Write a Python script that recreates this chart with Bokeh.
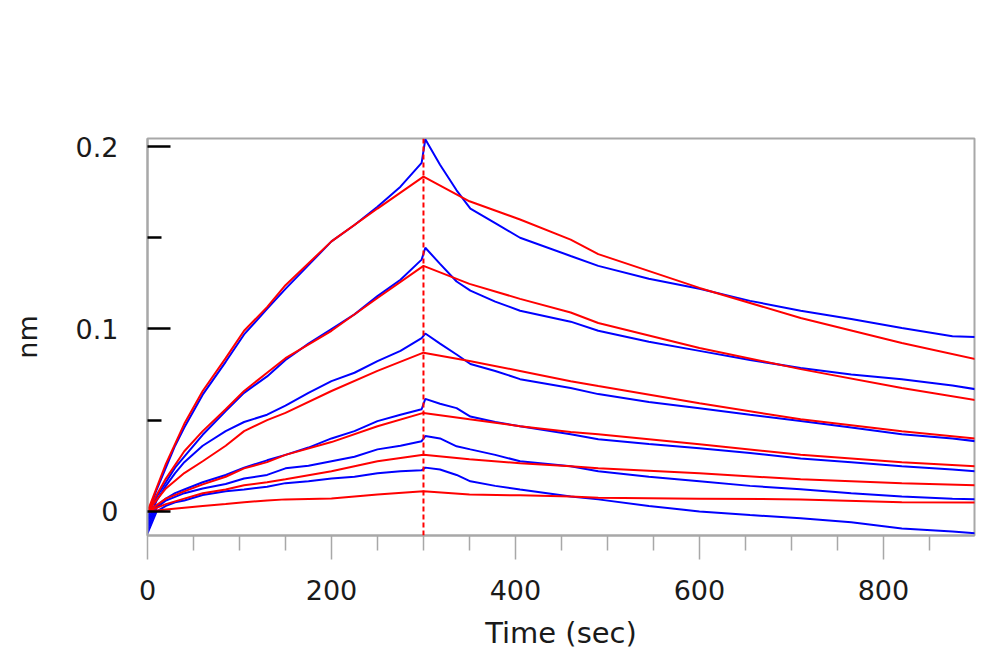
from bokeh.plotting import figure
from bokeh.models import Range1d, FixedTicker, Span, CustomJSTickFormatter
from bokeh.embed import file_html
from bokeh.resources import INLINE

# ---- data ----
t_fit = [0, 20, 40, 60, 85, 105, 130, 150, 200, 250, 300, 350, 405, 460, 490, 600, 710, 820, 900]
fit1 = [0.000, 0.026, 0.048, 0.066, 0.084, 0.099, 0.112, 0.124, 0.148, 0.166, 0.1835, 0.170, 0.160, 0.149, 0.141, 0.1225, 0.106, 0.0923, 0.0835]
fit2 = [0.000, 0.018, 0.033, 0.044, 0.056, 0.066, 0.076, 0.084, 0.099, 0.117, 0.1346, 0.1247, 0.1165, 0.109, 0.1033, 0.0896, 0.078, 0.0676, 0.061]
fit3 = [0.000, 0.0126, 0.021, 0.0275, 0.036, 0.044, 0.050, 0.054, 0.066, 0.077, 0.087, 0.0824, 0.077, 0.0714, 0.0687, 0.0593, 0.0505, 0.044, 0.040]
fit4 = [0.000, 0.007, 0.011, 0.0148, 0.019, 0.0236, 0.027, 0.031, 0.038, 0.0467, 0.054, 0.0505, 0.0467, 0.0435, 0.0423, 0.0368, 0.031, 0.027, 0.0247]
fit5 = [0.000, 0.004, 0.007, 0.010, 0.012, 0.0143, 0.016, 0.0176, 0.022, 0.0275, 0.031, 0.0286, 0.0264, 0.0247, 0.0236, 0.0209, 0.0176, 0.0154, 0.0143]
fit6 = [0.000, 0.001, 0.002, 0.003, 0.004, 0.005, 0.006, 0.0066, 0.0071, 0.0093, 0.011, 0.0093, 0.0088, 0.0082, 0.0075, 0.007, 0.0066, 0.005, 0.0049]

t_obs = [0, 5, 10, 20, 30, 40, 60, 85, 105, 130, 150, 175, 200, 225, 250, 275, 298,
         302, 318, 336, 351, 378, 405, 460, 490, 545, 600, 655, 710, 765, 820, 875, 900]
obs1 = [-0.005, 0.005, 0.012, 0.024, 0.036, 0.046, 0.064, 0.082, 0.097, 0.111, 0.122, 0.135, 0.148, 0.157, 0.167, 0.178, 0.191,
        0.204, 0.190, 0.176, 0.166, 0.158, 0.150, 0.140, 0.1346, 0.1275, 0.122, 0.1154, 0.110, 0.1055, 0.1005, 0.096, 0.0956]
obs2 = [-0.004, 0.003, 0.008, 0.016, 0.024, 0.030, 0.042, 0.055, 0.065, 0.074, 0.083, 0.092, 0.100, 0.108, 0.118, 0.127, 0.138,
        0.1445, 0.1357, 0.126, 0.121, 0.115, 0.110, 0.104, 0.099, 0.093, 0.088, 0.083, 0.0786, 0.075, 0.0725, 0.069, 0.067]
obs3 = [-0.006, 0.000, 0.006, 0.014, 0.021, 0.027, 0.036, 0.044, 0.049, 0.053, 0.058, 0.065, 0.0714, 0.076, 0.0824, 0.088, 0.095,
        0.0975, 0.092, 0.086, 0.0808, 0.077, 0.0725, 0.0676, 0.0643, 0.060, 0.0566, 0.053, 0.0495, 0.046, 0.0423, 0.040, 0.0385]
obs4 = [-0.008, -0.002, 0.003, 0.007, 0.010, 0.012, 0.016, 0.020, 0.024, 0.028, 0.031, 0.035, 0.040, 0.044, 0.0495, 0.053, 0.056,
        0.0617, 0.059, 0.0566, 0.052, 0.049, 0.0467, 0.0423, 0.0396, 0.037, 0.0346, 0.032, 0.029, 0.027, 0.0247, 0.023, 0.022]
obs5 = [-0.010, -0.004, 0.002, 0.006, 0.008, 0.010, 0.0126, 0.015, 0.018, 0.020, 0.0236, 0.025, 0.0275, 0.030, 0.034, 0.036, 0.0385,
        0.0413, 0.040, 0.0357, 0.034, 0.031, 0.0275, 0.0247, 0.022, 0.019, 0.0165, 0.014, 0.0121, 0.010, 0.0082, 0.007, 0.0066]
obs6 = [-0.012, -0.006, 0.000, 0.003, 0.005, 0.006, 0.009, 0.011, 0.012, 0.0135, 0.0155, 0.0165, 0.018, 0.019, 0.0209, 0.022, 0.0225,
        0.024, 0.023, 0.020, 0.0165, 0.014, 0.012, 0.0082, 0.0066, 0.003, 0.000, -0.002, -0.0038, -0.006, -0.0093, -0.011, -0.012]

dissociation_start = 300
x_ticks = [0, 200, 400, 600, 800]
x_tick_labels = ["0", "200", "400", "600", "800"]
x_minor = [50, 100, 150, 250, 300, 350, 450, 500, 550, 650, 700, 750, 850]
y_ticks = [0, 0.1, 0.2]
y_tick_labels = ["0", "0.1", "0.2"]
y_minor = [0.05, 0.15]
x_title = "Time (sec)"
y_title = "nm"

# ---- figure ----
FONT = "DejaVu Sans"
GRAY = "#a8a8a8"
TXT = "#1a1a1a"

p = figure(width=1000, height=670, output_backend="svg", toolbar_location=None,
           x_range=Range1d(0, 899), y_range=Range1d(-0.0132, 0.2044),
           min_border_left=147, min_border_right=26, min_border_top=138, min_border_bottom=135)
p.xgrid.visible = False
p.ygrid.visible = False
p.outline_line_color = GRAY
p.outline_line_width = 2
p.background_fill_color = "white"
p.border_fill_color = "white"

for obs in [obs1, obs2, obs3, obs4, obs5, obs6]:
    p.line(t_obs, obs, line_color="#0000ff", line_width=2)
for fit in [fit1, fit2, fit3, fit4, fit5, fit6]:
    p.line(t_fit, fit, line_color="#ff0000", line_width=2)

p.add_layout(Span(location=dissociation_start, dimension="height", line_color="#ff0000",
                  line_dash="5 3", line_width=2))

def fmt(vals, labs):
    return CustomJSTickFormatter(args=dict(vals=vals, labs=labs), code="""
for (let i = 0; i < vals.length; i++) { if (Math.abs(vals[i] - tick) < 1e-9) return labs[i]; }
return '';""")

xa = p.xaxis[0]
xa.ticker = FixedTicker(ticks=x_ticks, minor_ticks=x_minor)
xa.formatter = fmt(x_ticks, x_tick_labels)
xa.axis_line_color = GRAY
xa.axis_line_width = 2
xa.major_tick_line_color = GRAY
xa.minor_tick_line_color = GRAY
xa.major_tick_line_width = 1.5
xa.minor_tick_line_width = 1.5
xa.major_tick_in = 0
xa.major_tick_out = 24
xa.minor_tick_in = 0
xa.minor_tick_out = 15
xa.major_label_standoff = 20
xa.major_label_text_font = FONT
xa.major_label_text_font_size = "27px"
xa.major_label_text_color = TXT
xa.axis_label = x_title
xa.axis_label_text_font = FONT
xa.axis_label_text_font_size = "29px"
xa.axis_label_text_font_style = "normal"
xa.axis_label_text_color = TXT
xa.axis_label_standoff = 13

ya = p.yaxis[0]
ya.ticker = FixedTicker(ticks=y_ticks, minor_ticks=y_minor)
ya.formatter = fmt(y_ticks, y_tick_labels)
ya.axis_line_color = GRAY
ya.axis_line_width = 2
ya.major_tick_line_color = "black"
ya.minor_tick_line_color = "black"
ya.major_tick_line_width = 2.5
ya.minor_tick_line_width = 2.5
ya.major_tick_in = 23
ya.major_tick_out = 0
ya.minor_tick_in = 14
ya.minor_tick_out = 0
ya.major_label_standoff = 29
ya.major_label_text_font = FONT
ya.major_label_text_font_size = "27px"
ya.major_label_text_color = TXT
ya.axis_label = y_title
ya.axis_label_text_font = FONT
ya.axis_label_text_font_size = "27px"
ya.axis_label_text_font_style = "normal"
ya.axis_label_text_color = TXT
ya.axis_label_standoff = 30

open("out.html", "w").write(file_html(p, INLINE))
